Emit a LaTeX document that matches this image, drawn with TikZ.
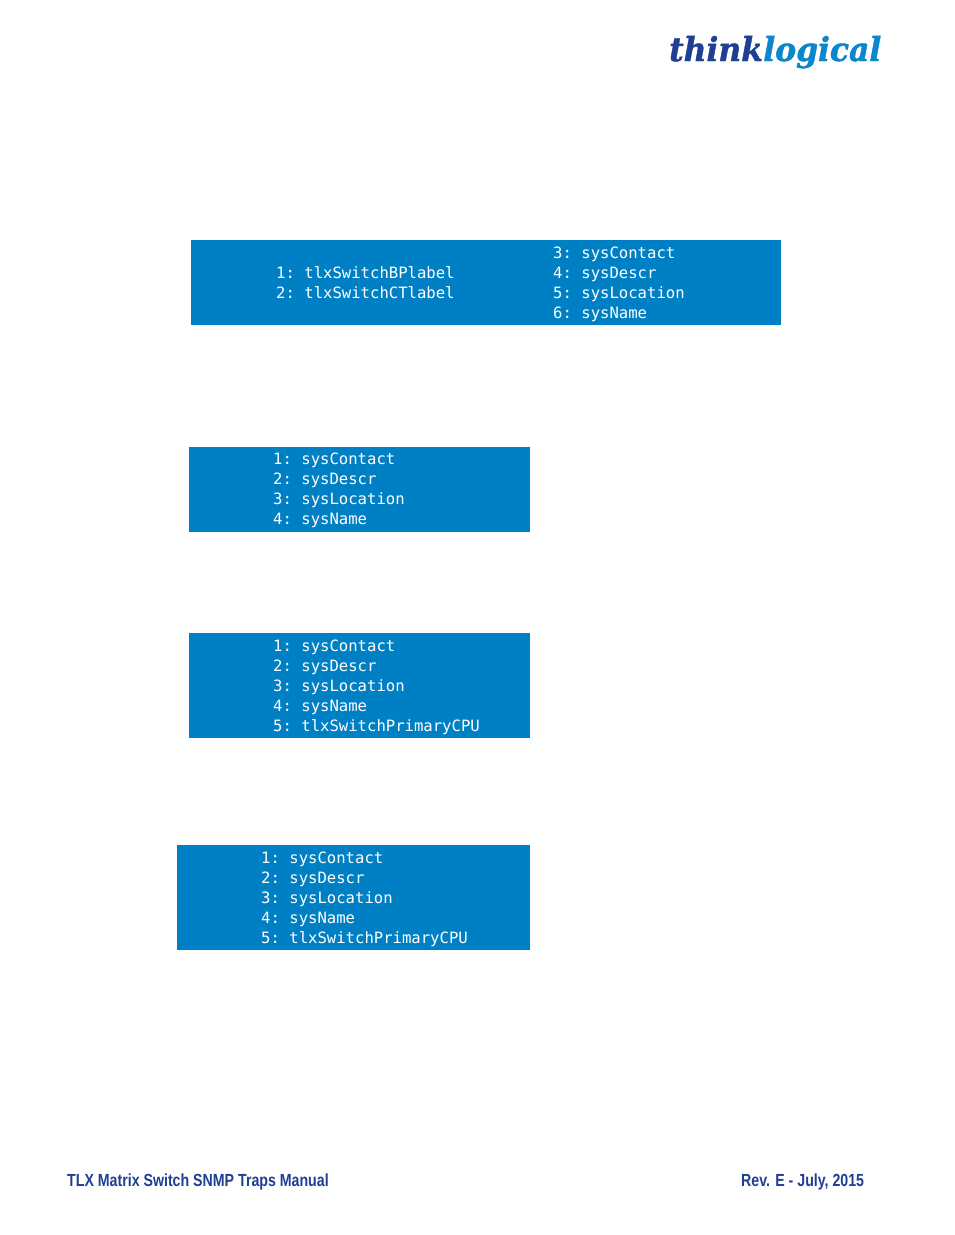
\documentclass[tikz,border=0pt]{standalone}
\usepackage{fontspec}
\setmonofont{DejaVu Sans Mono}
\setsansfont{Liberation Sans}
\newfontfamily\logofont[FakeStretch=0.95,FakeBold=1.2]{DejaVu Serif Bold Italic}
\newfontfamily\footfont[FakeStretch=0.81]{Liberation Sans Bold}
\definecolor{panelblue}{HTML}{0080C4}
\definecolor{navy}{HTML}{1F3F94}
\definecolor{logoblue}{HTML}{0A86CC}
\tikzset{
  panel/.style={fill=panelblue,draw=none,inner sep=0pt,rectangle},
  code/.style={anchor=base west,inner sep=0pt,text=white,font=\ttfamily\fontsize{15.6}{18}\selectfont},
  foot/.style={anchor=base west,inner sep=0pt,text=navy,font=\footfont\fontsize{17.5}{20}\selectfont},
  logo/.style={anchor=base west,inner sep=0pt,font=\logofont\fontsize{33}{36}\selectfont}
}
\begin{document}
\begin{tikzpicture}[x=1pt,y=-1pt]
\useasboundingbox (0,0) rectangle (954,1235);
\fill[white] (0,0) rectangle (954,1235);
% panels
\node[panel,minimum width=590pt,minimum height=85pt] (p1) at (486,282.5) {};
\node[panel,minimum width=341pt,minimum height=85pt] (p2) at (359.5,489.5) {};
\node[panel,minimum width=341pt,minimum height=105pt] (p3) at (359.5,685.5) {};
\node[panel,minimum width=353pt,minimum height=105pt] (p4) at (353.5,897.5) {};
% panel 1
\node[code] (a1) at (276,278) {1: tlxSwitchBPlabel};
\node[code] (a2) at (276,298) {2: tlxSwitchCTlabel};
\node[code] (b3) at (553,258) {3: sysContact};
\node[code] (b4) at (553,278) {4: sysDescr};
\node[code] (b5) at (553,298) {5: sysLocation};
\node[code] (b6) at (553,318) {6: sysName};
% panel 2
\node[code] (c1) at (273,464) {1: sysContact};
\node[code] (c2) at (273,484) {2: sysDescr};
\node[code] (c3) at (273,504) {3: sysLocation};
\node[code] (c4) at (273,524) {4: sysName};
% panel 3
\node[code] (d1) at (273,651) {1: sysContact};
\node[code] (d2) at (273,671) {2: sysDescr};
\node[code] (d3) at (273,691) {3: sysLocation};
\node[code] (d4) at (273,711) {4: sysName};
\node[code] (d5) at (273,731) {5: tlxSwitchPrimaryCPU};
% panel 4
\node[code] (e1) at (261,863) {1: sysContact};
\node[code] (e2) at (261,883) {2: sysDescr};
\node[code] (e3) at (261,903) {3: sysLocation};
\node[code] (e4) at (261,923) {4: sysName};
\node[code] (e5) at (261,943) {5: tlxSwitchPrimaryCPU};
% logo
\node[logo,text=navy] (l1) at (669,61) {think};
\node[logo,text=logoblue,anchor=base west] (l2) at (l1.base east) {logical};
% footer
\node[foot] (f1) at (67,1186) {TLX Matrix Switch SNMP Traps Manual};
\node[foot] (f2) at (741,1186) {Rev. E - July, 2015};
\end{tikzpicture}
\end{document}
